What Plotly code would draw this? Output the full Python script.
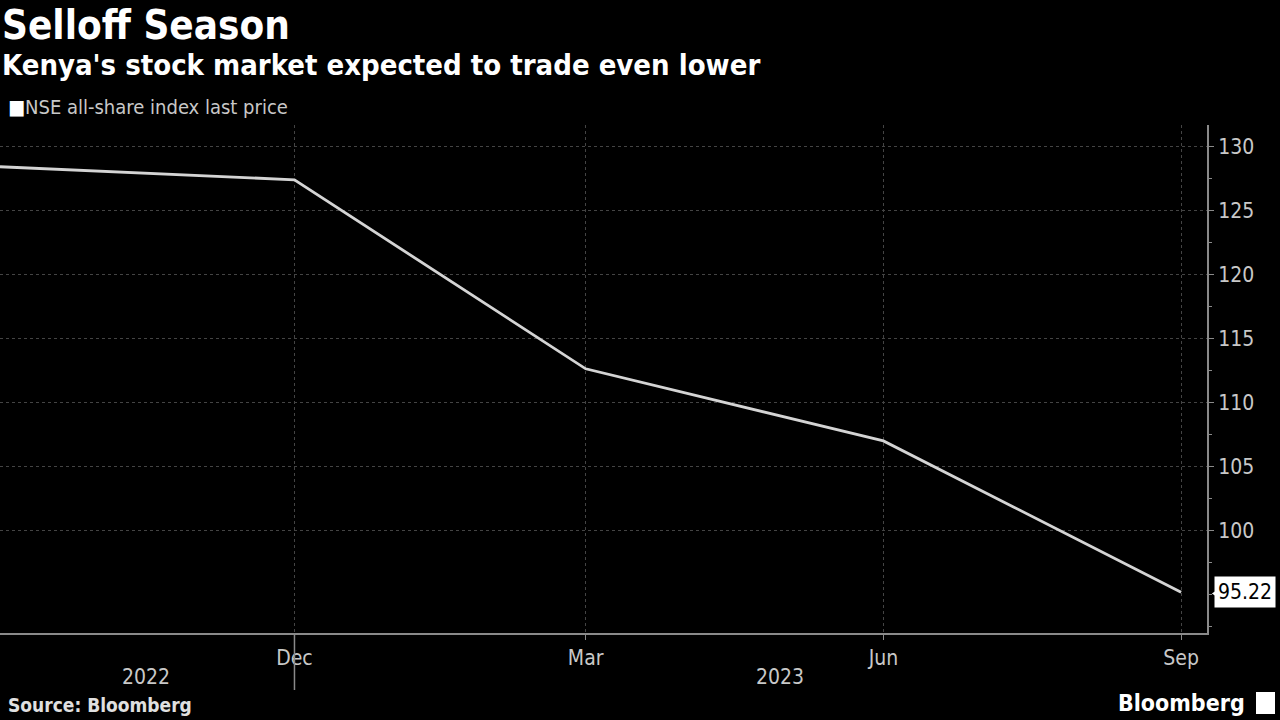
import plotly.graph_objects as go

dates = ["2022-09-01", "2022-12-01", "2023-03-01", "2023-06-01", "2023-09-01"]
values = [128.44, 127.42, 112.66, 107.03, 95.22]
tick_dates = ["2022-12-01", "2023-03-01", "2023-06-01", "2023-09-01"]
tick_labels = ["Dec", "Mar", "Jun", "Sep"]
y_ticks = [100, 105, 110, 115, 120, 125, 130]
year_labels = ["2022", "2023"]
year_pos = ["2022-10-16", "2023-04-30"]

W, H = 1280, 720
L, R, T, B = 0, 73, 125, 87
ph = H - T - B
FONT = "DejaVu Sans Condensed, DejaVu Sans"

fig = go.Figure()
fig.add_trace(go.Scatter(x=dates, y=values, mode="lines",
                         line=dict(color="#d4d4d4", width=2.8),
                         showlegend=False, hoverinfo="skip", cliponaxis=False))

grid = dict(showgrid=True, gridcolor="#444444", griddash="dot", gridwidth=1)
fig.update_layout(
    width=W, height=H,
    paper_bgcolor="black", plot_bgcolor="black",
    margin=dict(l=L, r=R, t=T, b=B),
    font=dict(family=FONT, color="#c8c8c8"),
    xaxis=dict(type="date", range=["2022-09-01", "2023-09-09"],
               tickvals=tick_dates, ticktext=tick_labels,
               tickfont=dict(size=21, color="#c8c8c8"),
               showline=True, linecolor="#8a8a8a", linewidth=2,
               ticks="outside", ticklen=5, tickcolor="#8a8a8a",
               zeroline=False, **grid),
    yaxis=dict(side="right", range=[92.03, 131.7], tickvals=y_ticks,
               tickfont=dict(size=21, color="#c8c8c8"),
               showline=True, linecolor="#8a8a8a", linewidth=2,
               ticks="outside", ticklen=5, tickcolor="#8a8a8a",
               minor=dict(dtick=2.5, ticks="outside", ticklen=3, tickcolor="#8a8a8a", showgrid=False),
               zeroline=False, **grid),
)

def py(pix):
    return (H - B - pix) / ph

ann = []
ann.append(dict(text="<b>Selloff Season</b>", x=0, y=py(25), xref="paper", yref="paper",
                xanchor="left", yanchor="middle", showarrow=False,
                font=dict(size=40, color="white", family=FONT)))
ann.append(dict(text="<b>Kenya's stock market expected to trade even lower</b>", x=0, y=py(65),
                xref="paper", yref="paper", xanchor="left", yanchor="middle", showarrow=False,
                font=dict(size=29, color="white", family=FONT)))
ann.append(dict(text="<span style='color:white'>■</span>NSE all-share index last price", x=0.005, y=py(107),
                xref="paper", yref="paper", xanchor="left", yanchor="middle", showarrow=False,
                font=dict(size=20, color="#c8c8c8")))
for lab, pos in zip(year_labels, year_pos):
    ann.append(dict(text=lab, x=pos, y=py(677), xref="x", yref="paper",
                    xanchor="center", yanchor="middle", showarrow=False,
                    font=dict(size=21, color="#c8c8c8")))
ann.append(dict(text="<b>Source: Bloomberg</b>", x=0.005, y=py(705), xref="paper", yref="paper",
                xanchor="left", yanchor="middle", showarrow=False,
                font=dict(size=19, color="#e0e0e0")))
ann.append(dict(text="<b>Bloomberg</b>", x=(1247 - L) / (W - L - R), y=py(703), xref="paper", yref="paper",
                xanchor="right", yanchor="middle", showarrow=False,
                font=dict(size=23, color="white")))
ann.append(dict(text="95.22", x=1.0, xshift=7, y=values[-1], xref="paper", yref="y",
                xanchor="left", yanchor="middle", showarrow=False,
                bgcolor="white", borderpad=3,
                font=dict(size=21, color="black")))
fig.update_layout(annotations=ann)

fig.add_shape(type="line", xref="x", yref="paper", x0=tick_dates[0], x1=tick_dates[0],
              y0=0, y1=py(690), line=dict(color="#8a8a8a", width=1.5))
# pointer on the last-value label
fig.add_shape(type="path", xref="paper", yref="paper",
              path=f"M 1.004 {py(593.6)} L 1.02 {py(581)} L 1.02 {py(606)} Z",
              fillcolor="white", line=dict(width=0))
# Bloomberg logo square
fig.add_shape(type="rect", xref="paper", yref="paper",
              x0=(1256 - L) / (W - L - R), x1=(1275 - L) / (W - L - R),
              y0=py(714), y1=py(692), fillcolor="white", line=dict(width=0))

fig.write_html("out.html", config={"displayModeBar": False},
               post_script="document.body.style.margin='0';document.body.style.overflow='hidden';")
